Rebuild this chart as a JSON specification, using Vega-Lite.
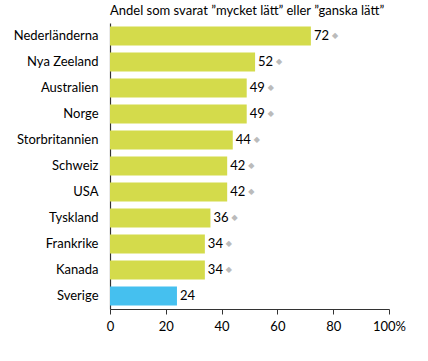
{
  "$schema": "https://vega.github.io/schema/vega-lite/v6.json",
  "width": 279,
  "height": 286,
  "autosize": {"type": "none"},
  "padding": {"left": 110, "top": 23, "right": 39, "bottom": 52},
  "background": "white",
  "title": {
    "text": "Andel som svarat ”mycket lätt” eller ”ganska lätt”",
    "anchor": "start",
    "frame": "group",
    "font": "Lato",
    "fontSize": 13,
    "fontWeight": "normal",
    "color": "#000",
    "offset": 5
  },
  "data": {
    "values": [
      {"land": "Nederländerna", "andel": 72, "typ": "other", "markering": "◆"},
      {"land": "Nya Zeeland", "andel": 52, "typ": "other", "markering": "◆"},
      {"land": "Australien", "andel": 49, "typ": "other", "markering": "◆"},
      {"land": "Norge", "andel": 49, "typ": "other", "markering": "◆"},
      {"land": "Storbritannien", "andel": 44, "typ": "other", "markering": "◆"},
      {"land": "Schweiz", "andel": 42, "typ": "other", "markering": "◆"},
      {"land": "USA", "andel": 42, "typ": "other", "markering": "◆"},
      {"land": "Tyskland", "andel": 36, "typ": "other", "markering": "◆"},
      {"land": "Frankrike", "andel": 34, "typ": "other", "markering": "◆"},
      {"land": "Kanada", "andel": 34, "typ": "other", "markering": "◆"},
      {"land": "Sverige", "andel": 24, "typ": "sverige", "markering": ""}
    ]
  },
  "encoding": {
    "y": {
      "field": "land",
      "type": "nominal",
      "sort": null,
      "scale": {"paddingInner": 0.26, "paddingOuter": 0.13},
      "axis": {
        "title": null,
        "ticks": false,
        "labelPadding": 12,
        "labelFont": "Lato",
        "labelFontSize": 13,
        "labelColor": "#000",
        "domainColor": "#333",
        "domainWidth": 1.2
      }
    },
    "x": {
      "field": "andel",
      "type": "quantitative",
      "scale": {"domain": [0, 100], "nice": false},
      "axis": {
        "title": null,
        "values": [0, 20, 40, 60, 80, 100],
        "labelExpr": "datum.value == 100 ? '100%' : datum.label",
        "grid": false,
        "tickSize": 5,
        "tickColor": "#333",
        "domainColor": "#333",
        "domainWidth": 1.2,
        "labelPadding": 6,
        "labelFont": "Lato",
        "labelFontSize": 13,
        "labelColor": "#000",
        "labelFlush": false
      }
    }
  },
  "layer": [
    {
      "mark": {"type": "bar"},
      "encoding": {
        "color": {
          "field": "typ",
          "type": "nominal",
          "scale": {"domain": ["other", "sverige"], "range": ["#d4db4b", "#45c0ef"]},
          "legend": null
        }
      }
    },
    {
      "mark": {"type": "text", "align": "left", "dx": 3, "font": "Lato", "fontSize": 13, "color": "#000"},
      "encoding": {"text": {"field": "andel", "type": "quantitative"}}
    },
    {
      "mark": {"type": "text", "align": "left", "dx": 21, "font": "DejaVu Sans", "fontSize": 8, "color": "#bbbbbb"},
      "encoding": {"text": {"field": "markering", "type": "nominal"}}
    }
  ],
  "config": {"view": {"stroke": null}}
}
